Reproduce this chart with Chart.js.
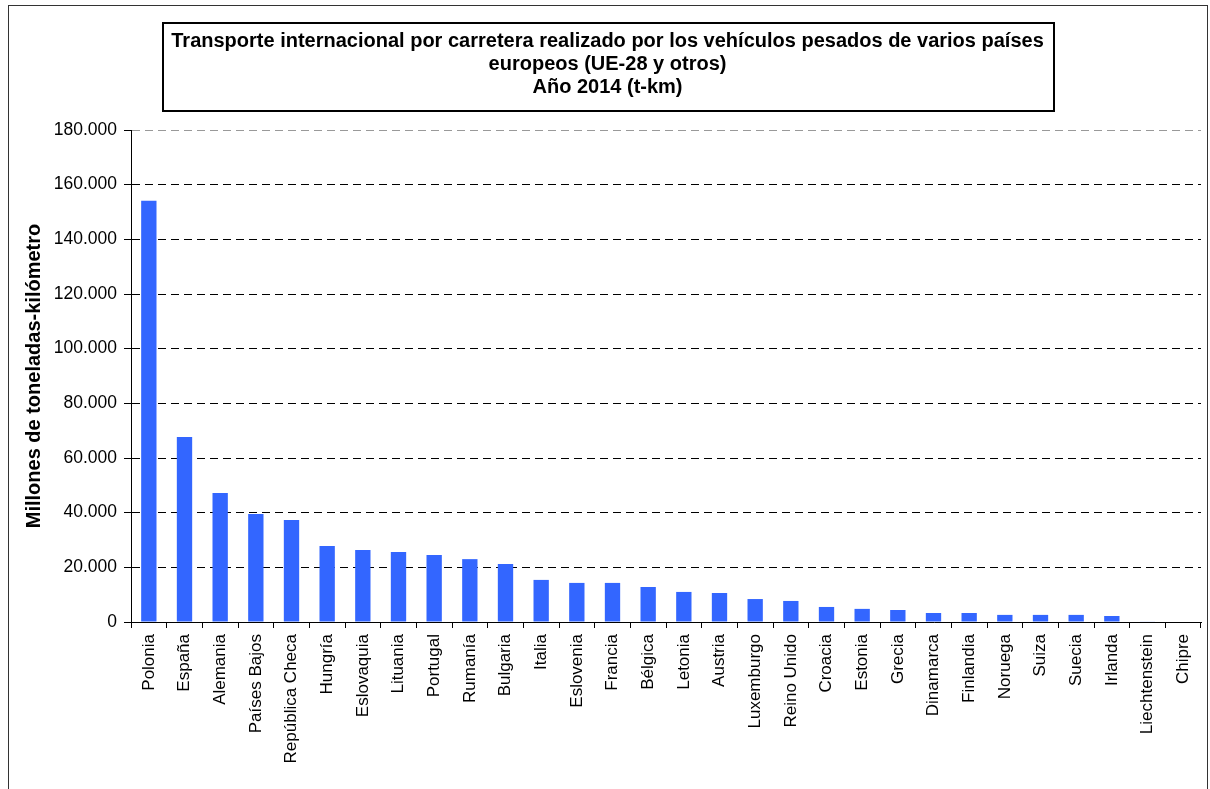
<!DOCTYPE html>
<html lang="es">
<head>
<meta charset="utf-8">
<title>Transporte internacional por carretera 2014</title>
<script src="https://cdn.jsdelivr.net/npm/chart.js@4.4.1/dist/chart.umd.min.js"></script>
<style>
  html, body { margin: 0; padding: 0; background: #fff; }
  #wrap { width: 1210px; height: 789px; }
</style>
</head>
<body>
<div id="wrap"><canvas id="chart" width="1210" height="789"></canvas></div>
<script>
// datos (millones de t-km)
const paises = [
  "Polonia", "España", "Alemania", "Países Bajos", "República Checa",
  "Hungría", "Eslovaquia", "Lituania", "Portugal", "Rumanía",
  "Bulgaria", "Italia", "Eslovenia", "Francia", "Bélgica",
  "Letonia", "Austria", "Luxemburgo", "Reino Unido", "Croacia",
  "Estonia", "Grecia", "Dinamarca", "Finlandia", "Noruega",
  "Suiza", "Suecia", "Irlanda", "Liechtenstein", "Chipre"
];
const tkm = [
  154100, 67700, 47200, 39500, 37300,
  27800, 26300, 25600, 24500, 23000,
  21200, 15400, 14300, 14300, 12800,
  11000, 10600, 8400, 7700, 5500,
  4800, 4400, 3300, 3300, 2600,
  2600, 2600, 2200, 150, 0
];
const titulo = [
  "Transporte internacional por carretera realizado por los vehículos pesados de varios países",
  "europeos (UE-28 y otros)",
  "Año 2014 (t-km)"
];
const tituloEjeY = "Millones de toneladas-kilómetro";
const yMax = 180000;
const yPaso = 20000;

Chart.defaults.font.family = '"Liberation Sans", Arial, sans-serif';
Chart.defaults.color = "#000";

// separador de miles con punto
function fmtMiles(v) {
  return String(v).replace(/\B(?=(\d{3})+(?!\d))/g, ".");
}

// marco exterior y recuadro del título
const marcos = {
  id: "marcos",
  afterDraw(chart) {
    const ctx = chart.ctx;
    ctx.save();
    ctx.strokeStyle = "#333";
    ctx.lineWidth = 1;
    ctx.strokeRect(8.5, 5.5, 1199, 800);
    ctx.strokeStyle = "#000";
    ctx.lineWidth = 2;
    ctx.strokeRect(163, 23, 891, 88);
    ctx.restore();
  }
};

new Chart(document.getElementById("chart"), {
  type: "bar",
  data: {
    labels: paises,
    datasets: [{
      data: tkm,
      backgroundColor: "#3366ff",
      barPercentage: 0.43,
      categoryPercentage: 1.0
    }]
  },
  options: {
    responsive: false,
    animation: false,
    layout: { padding: { top: 22, left: 14, right: 9, bottom: 0 } },
    plugins: {
      legend: { display: false },
      tooltip: { enabled: false },
      title: {
        display: true,
        text: titulo,
        color: "#000",
        font: { size: 20, weight: "bold", lineHeight: "23px" },
        padding: { top: 8, bottom: 31 }
      }
    },
    scales: {
      x: {
        afterFit(scale) { scale.height = 167; },
        grid: {
          drawOnChartArea: true,
          color: (c) => (c.index === paises.length ? "#999" : "rgba(0,0,0,0)"),
          tickColor: "#000",
          tickLength: 6
        },
        border: { color: "#000", width: 1 },
        ticks: {
          autoSkip: false,
          maxRotation: 90,
          minRotation: 90,
          padding: 6,
          color: "#000",
          font: { size: 17 }
        }
      },
      y: {
        min: 0,
        max: yMax,
        afterFit(scale) { scale.width = 117; },
        grid: {
          color: (c) => (c.tick && c.tick.value === yMax ? "#999" : "#000"),
          tickColor: "#000",
          tickLength: 7
        },
        border: { color: "#000", width: 1, dash: [8, 5] },
        ticks: {
          stepSize: yPaso,
          padding: 7,
          color: "#000",
          font: { size: 17.5 },
          callback: (v) => fmtMiles(v)
        },
        title: {
          display: true,
          text: tituloEjeY,
          color: "#000",
          font: { size: 20, weight: "bold" },
          padding: { top: 8 }
        }
      }
    }
  },
  plugins: [marcos]
});
</script>
</body>
</html>
